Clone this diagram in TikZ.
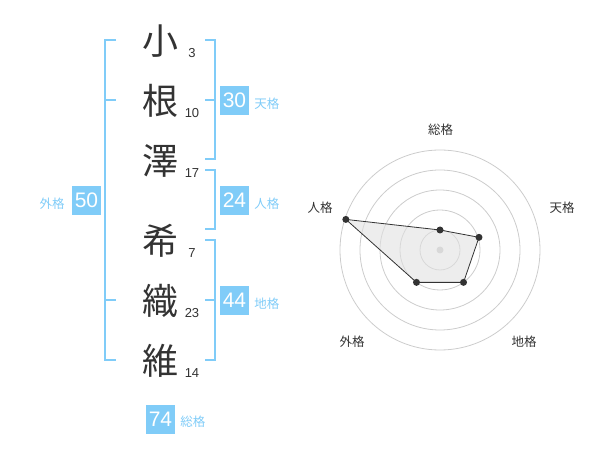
\documentclass[tikz,border=0pt]{standalone}
\usepackage{fontspec}
\usepackage{xcolor}
\usetikzlibrary{positioning}
\setmainfont{Liberation Sans}
\newfontfamily\jpfont{Noto Sans CJK JP}
\definecolor{gradeblue}{RGB}{128,204,248}
\definecolor{inkgray}{RGB}{51,51,51}
\definecolor{ringgray}{RGB}{204,204,204}
\definecolor{areagray}{RGB}{225,225,225}

\begin{document}
\begin{tikzpicture}[x=1pt, y=-1pt,
    kanji/.style={inkgray, font=\jpfont\fontsize{36}{36}\selectfont, inner sep=0pt},
    stroke/.style={inkgray, font=\fontsize{13}{13}\selectfont, inner sep=0pt},
    numbox/.style={fill=gradeblue, text=white, minimum size=29pt, inner sep=0pt,
        font=\fontsize{21}{21}\selectfont},
    gradelabel/.style={gradeblue, font=\jpfont\fontsize{12.5}{12.5}\selectfont, inner sep=0pt},
    bracket/.style={gradeblue, line width=2pt},
    axislabel/.style={inkgray, font=\jpfont\fontsize{12.5}{12.5}\selectfont, inner sep=0pt},
    dot/.style={circle, fill=inkgray, inner sep=0pt, minimum size=7pt}]
    \useasboundingbox (0,0) rectangle (600,470);

    % Name characters and stroke counts
    \node[kanji] (k1) at (160,41) {小};
    \node[kanji] (k2) at (160,101) {根};
    \node[kanji] (k3) at (160,161) {澤};
    \node[kanji] (k4) at (160,241) {希};
    \node[kanji] (k5) at (160,301) {織};
    \node[kanji] (k6) at (160,361) {維};
    \node[stroke] (n1) at (192,53) {3};
    \node[stroke] (n2) at (192,113) {10};
    \node[stroke] (n3) at (192,173) {17};
    \node[stroke] (n4) at (192,253) {7};
    \node[stroke] (n5) at (192,313) {23};
    \node[stroke] (n6) at (192,373) {14};

    % Brackets
    \draw[bracket] (116,40) -- (105,40) -- (105,360) -- (116,360);
    \draw[bracket] (105,100) -- (116,100);
    \draw[bracket] (105,300) -- (116,300);
    \draw[bracket] (205,40) -- (214.5,40) -- (214.5,159.5) -- (205,159.5);
    \draw[bracket] (205,100) -- (214.5,100);
    \draw[bracket] (205,170) -- (214.5,170) -- (214.5,229.5) -- (205,229.5);
    \draw[bracket] (205,240) -- (214.5,240) -- (214.5,360) -- (205,360);
    \draw[bracket] (205,300) -- (214.5,300);

    % Grade boxes
    \node[numbox] (ten) at (234.5,100.5) {30};
    \node[numbox] (jin) at (234.5,200.5) {24};
    \node[numbox] (chi) at (234.5,300.5) {44};
    \node[numbox] (gai) at (86.5,200.5) {50};
    \node[numbox] (sou) at (160.5,419) {74};
    \node[gradelabel, right=5pt of ten, yshift=-3pt] (tenlabel) {天格};
    \node[gradelabel, right=5pt of jin, yshift=-3pt] (jinlabel) {人格};
    \node[gradelabel, right=5pt of chi, yshift=-3pt] (chilabel) {地格};
    \node[gradelabel, left=7pt of gai, yshift=-3pt] (gailabel) {外格};
    \node[gradelabel, right=5pt of sou, yshift=-3pt] (soulabel) {総格};

    % Radar chart
    \begin{scope}[shift={(440,250)}, yscale=-1]
        \foreach \r in {20,40,60,80,100}
            \draw[ringgray, line width=0.8pt] (0,0) circle (\r);
        \fill[ringgray] (0,0) circle (3.5);
        \coordinate (psou) at (90:20);
        \coordinate (pten) at (18:41);
        \coordinate (pchi) at (-54:40);
        \coordinate (pgai) at (-126:40);
        \coordinate (pjin) at (162:99);
        \draw[inkgray, line width=0.8pt, fill=areagray, fill opacity=0.6]
            (psou) -- (pten) -- (pchi) -- (pgai) -- (pjin) -- cycle;
        \foreach \p in {psou,pten,pchi,pgai,pjin}
            \node[dot] at (\p) {};
    \end{scope}
    \node[axislabel] (axsou) at (440.5,130) {総格};
    \node[axislabel] (axten) at (562,208) {天格};
    \node[axislabel] (axjin) at (320,208) {人格};
    \node[axislabel] (axgai) at (352,342) {外格};
    \node[axislabel] (axchi) at (524,342) {地格};
\end{tikzpicture}
\end{document}
